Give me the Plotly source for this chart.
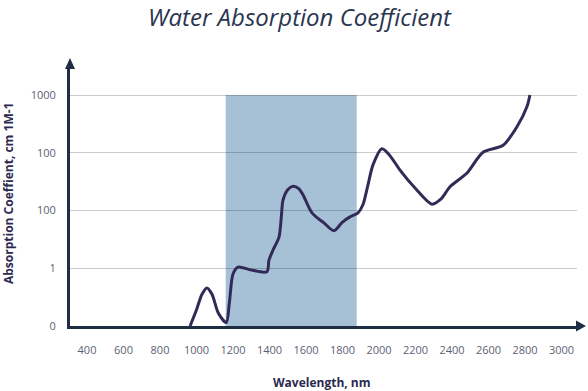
import plotly.graph_objects as go

# Data (y in evenly spaced label levels: 0->"0", 1->"1", 2->"100", 3->"100", 4->"1000")
wavelength = [965, 1000, 1030, 1057, 1085, 1120, 1163, 1180, 1200, 1227, 1300, 1386, 1397, 1420, 1452,
              1465, 1474, 1500, 1529, 1560, 1584, 1633, 1700, 1753, 1800, 1841, 1885, 1912, 1940, 1967,
              2016, 2060, 2115, 2200, 2290, 2340, 2389, 2482, 2570, 2680, 2756, 2811, 2827]
absorption = [0.0, 0.28, 0.55, 0.66, 0.55, 0.22, 0.06, 0.4, 0.9, 1.02, 0.97, 0.94, 1.14, 1.32, 1.54,
              1.9, 2.18, 2.36, 2.42, 2.38, 2.27, 1.96, 1.78, 1.65, 1.8, 1.89, 1.96, 2.1, 2.45, 2.79,
              3.07, 2.95, 2.70, 2.38, 2.11, 2.2, 2.41, 2.65, 3.01, 3.13, 3.45, 3.80, 4.0]

y_tick_levels = [0, 1, 2, 3, 4]
y_tick_labels = ["0", "1", "100", "100", "1000"]
x_ticks = [400, 600, 800, 1000, 1200, 1400, 1600, 1800, 2000, 2200, 2400, 2600, 2800, 3000]
band = [1160, 1878]

navy = "#1f2d45"
curve = "#322b58"
ticktxt = "#5d5f75"

W, H = 588, 391
L, R, T, B = 70, 11, 68, 391 - 326
pw, ph = W - L - R, H - T - B
ytop = ph / 57.75
x_lo = 400 - (87 - L) / 0.1825
x_hi = 400 + (W - R - 87) / 0.1825

fig = go.Figure()
fig.add_trace(go.Scatter(x=wavelength, y=absorption, mode="lines",
                         line=dict(color=curve, width=3, shape="spline", smoothing=0.8),
                         cliponaxis=False, hoverinfo="skip"))

fig.add_shape(type="rect", xref="x", yref="y", x0=band[0], x1=band[1], y0=0, y1=4,
              fillcolor="#a6c1d6", line=dict(width=0), layer="below")

# arrowheads
fig.add_shape(type="path", xref="paper", yref="paper", xsizemode="pixel", ysizemode="pixel",
              xanchor=0, yanchor=1, path="M -5 -1 L 5 -1 L 0 10 Z",
              fillcolor=navy, line=dict(width=0))
fig.add_shape(type="path", xref="paper", yref="paper", xsizemode="pixel", ysizemode="pixel",
              xanchor=1, yanchor=0, path="M -1 5.5 L -1 -5.5 L 9 0 Z",
              fillcolor=navy, line=dict(width=0))


def px2paper(px, py):
    return (px - L) / pw, (H - B - py) / ph


tx, ty = px2paper(300, 16.5)
wx, wy = px2paper(322, 382)
ax_, ay_ = px2paper(8, 194)

fig.update_layout(
    width=W, height=H,
    margin=dict(l=L, r=R, t=T, b=B, pad=0),
    paper_bgcolor="white", plot_bgcolor="white",
    showlegend=False,
    font=dict(family="Open Sans", color=ticktxt, size=11),
    xaxis=dict(range=[x_lo, x_hi], tickvals=x_ticks, ticktext=[str(v) for v in x_ticks],
               showgrid=False, zeroline=False, showline=True, linecolor=navy, linewidth=3,
               ticks="outside", ticklen=12, tickcolor="rgba(0,0,0,0)",
               tickfont=dict(size=11, color=ticktxt)),
    yaxis=dict(range=[0, ytop], tickvals=y_tick_levels, ticktext=y_tick_labels,
               showgrid=True, gridcolor="rgba(0,0,0,0.2)", gridwidth=1, zeroline=False,
               showline=True, linecolor=navy, linewidth=3,
               ticks="outside", ticklen=9, tickcolor="rgba(0,0,0,0)",
               tickfont=dict(size=11, color=ticktxt)),
    annotations=[
        dict(text="Water Absorption Coefficient", x=tx, y=ty, xref="paper", yref="paper",
             xanchor="center", yanchor="middle", showarrow=False,
             font=dict(family="Open Sans", size=24, color="#2a3550", style="italic")),
        dict(text="<b>Wavelength, nm</b>", x=wx, y=wy, xref="paper", yref="paper",
             xanchor="center", yanchor="middle", showarrow=False,
             font=dict(family="Open Sans", size=12, color="#2b2a50")),
        dict(text="<b>Absorption Coeffient, cm 1M-1</b>", x=ax_, y=ay_, xref="paper", yref="paper",
             xanchor="center", yanchor="middle", textangle=-90, showarrow=False,
             font=dict(family="Open Sans", size=12, color="#2b2a50")),
    ],
)

fig.write_html("out.html", config={"displayModeBar": False},
               post_script="document.body.style.margin='0';document.body.style.overflow='hidden';")
